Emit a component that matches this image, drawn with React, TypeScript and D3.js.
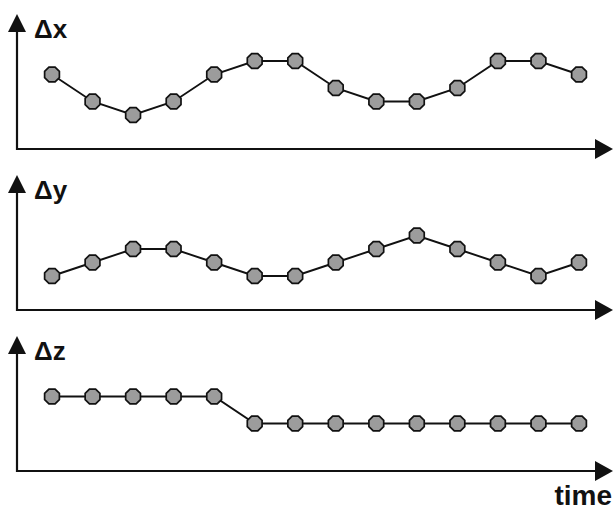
import React from 'react';
import { scaleLinear, scalePoint, line, lineRadial, curveLinearClosed, range } from 'd3';

// step index along the time axis
const steps = range(14);

// displacement levels per component (0 = lowest level)
const dxValues = [3, 1, 0, 1, 3, 4, 4, 2, 1, 1, 2, 4, 4, 3];
const dyValues = [0, 1, 2, 2, 1, 0, 0, 1, 2, 3, 2, 1, 0, 1];
const dzValues = [3, 3, 3, 3, 3, 1, 1, 1, 1, 1, 1, 1, 1, 1];

const panelLabels = ['\u0394x', '\u0394y', '\u0394z'];
const panelSeries = [dxValues, dyValues, dzValues];
const xLabel = 'time';

const W = 614;
const H = 511;
const PANEL_H = 161;
const AXIS_X = 17;
const AXIS_Y = 149; // local baseline of each panel
const ARROW_TOP = 14;
const FONT = '"Liberation Sans", Arial, sans-serif';

const MARKER_FILL = '#9c9c9c';
const INK = '#111';

export default function App() {
  const x = scalePoint<number>().domain(steps).range([52, 579]);
  const y = scaleLinear().domain([0, 4]).range([115, 61]);

  const pathGen = line<number>()
    .x((_, i) => x(steps[i]) as number)
    .y((d) => y(d));

  const octagon = lineRadial<number>()
    .angle((d) => d)
    .radius(8)
    .curve(curveLinearClosed)(range(8).map((k) => (k * Math.PI) / 4 + Math.PI / 8));

  return (
    <svg
      width={W}
      height={H}
      viewBox={`0 0 ${W} ${H}`}
      style={{ position: 'absolute', left: 0, top: 0, background: '#fff' }}
    >
      {panelSeries.map((vals, p) => (
        <g key={p} transform={`translate(0,${p * PANEL_H})`}>
          {/* y axis with arrow */}
          <line x1={AXIS_X} x2={AXIS_X} y1={AXIS_Y + 1} y2={ARROW_TOP + 12} stroke={INK} strokeWidth={2.2} />
          <path
            d={`M${AXIS_X},${ARROW_TOP} L${AXIS_X + 9},${ARROW_TOP + 18} L${AXIS_X - 9},${ARROW_TOP + 18} Z`}
            fill={INK}
          />
          {/* x axis with arrow */}
          <line x1={AXIS_X - 1} x2={600} y1={AXIS_Y} y2={AXIS_Y} stroke={INK} strokeWidth={2.2} />
          <path d={`M613,${AXIS_Y} L595,${AXIS_Y - 10} L595,${AXIS_Y + 10} Z`} fill={INK} />
          <text
            x={34}
            y={38}
            fontFamily={FONT}
            fontWeight="bold"
            fontSize={26}
            fill={INK}
          >
            {panelLabels[p]}
          </text>
          <path d={pathGen(vals) ?? ''} fill="none" stroke={INK} strokeWidth={1.9} />
          {vals.map((v, i) => (
            <path
              key={i}
              d={octagon ?? ''}
              transform={`translate(${x(steps[i])},${y(v)})`}
              fill={MARKER_FILL}
              stroke={INK}
              strokeWidth={1.7}
            />
          ))}
        </g>
      ))}
      <text
        x={612}
        y={505}
        textAnchor="end"
        fontFamily={FONT}
        fontWeight="bold"
        fontSize={28}
        fill={INK}
      >
        {xLabel}
      </text>
    </svg>
  );
}
